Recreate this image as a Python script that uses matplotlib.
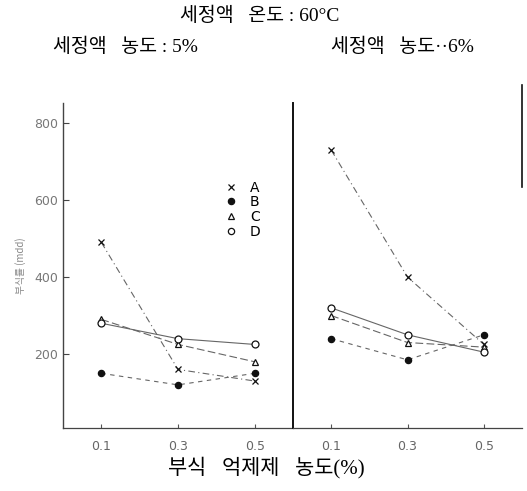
import matplotlib
matplotlib.use("Agg")
import matplotlib.pyplot as plt
from matplotlib.lines import Line2D

plt.rcParams['font.family'] = ['Noto Sans CJK KR', 'DejaVu Sans']

x = [0.1, 0.3, 0.5]
xticklabels = ["0.1", "0.3", "0.5"]
series = ["A", "B", "C", "D"]
left_vals = {
    "A": [490, 160, 130],
    "B": [150, 120, 150],
    "C": [290, 225, 180],
    "D": [280, 240, 225],
}
right_vals = {
    "A": [730, 400, 225],
    "B": [240, 185, 250],
    "C": [300, 230, 218],
    "D": [320, 250, 205],
}
yticks = [200, 400, 600, 800]

markers = {"A": "x", "B": "o", "C": "^", "D": "o"}
mfc = {"A": "#222222", "B": "#111111", "C": "white", "D": "white"}
ls = {"A": (0, (6, 3, 1, 3)), "B": (0, (4, 4)), "C": (0, (7, 3)), "D": "-"}
msize = {"A": 5, "B": 4.5, "C": 5, "D": 5}

fig = plt.figure(figsize=(5.27, 4.91), dpi=100)
L, R, B, T = 63/527, 522/527, 1-428/491, 1-103/491
mid = 293/527
ax1 = fig.add_axes([L, B, mid-L, T-B])
ax2 = fig.add_axes([mid, B, R-mid, T-B])

for ax, vals in ((ax1, left_vals), (ax2, right_vals)):
    for s in series:
        ax.plot(x, vals[s], linestyle=ls[s], color="#666666", linewidth=0.8,
                marker=markers[s], markersize=msize[s], markerfacecolor=mfc[s],
                markeredgecolor="#111111", markeredgewidth=0.9, label=s)
    ax.set_xlim(0, 0.6)
    ax.set_ylim(8, 852)
    ax.set_xticks(x)
    ax.set_xticklabels(xticklabels, color="#666666", fontsize=9, family="DejaVu Sans")
    ax.tick_params(axis="x", direction="in", length=3, color="#555555", pad=9)
    ax.spines['top'].set_visible(False)
    ax.spines['right'].set_visible(False)
    ax.spines['bottom'].set_color("#444444")
    ax.spines['bottom'].set_linewidth(0.9)

ax1.set_yticks(yticks)
ax1.set_yticklabels([str(v) for v in yticks], color="#777777", fontsize=9, family="DejaVu Sans")
ax1.tick_params(axis="y", direction="in", length=4, color="#444444")
ax1.spines['left'].set_color("#444444")
ax1.spines['left'].set_linewidth(1.0)
ax1.set_ylabel("부식률 (mdd)", fontsize=7, color="#888888", labelpad=6)

ax2.set_yticks([])
ax2.spines['left'].set_color("#111111")
ax2.spines['left'].set_linewidth(1.4)
# partial right border
ax2.plot([1, 1], [1 - (187-103)/325, 1 + 18/325], transform=ax2.transAxes,
         color="#111111", linewidth=1.2, clip_on=False)

handles = [Line2D([], [], linestyle="none", marker=markers[s], markersize=4.5,
                  markerfacecolor=mfc[s], markeredgecolor="#111111", markeredgewidth=0.9)
           for s in series]
ax1.legend(handles, series, loc="upper left", bbox_to_anchor=(0.65, 0.80), frameon=False,
           handlelength=0.8, handletextpad=1.0, labelspacing=0.05,
           prop={"family": "DejaVu Sans", "size": 10})

serif = ['Liberation Serif', 'Noto Sans CJK KR']
fig.text(260/527, 1-16/491, "세정액   온도 : 60°C", ha="center", va="center", fontsize=14, family=serif)
fig.text(125/527, 1-47/491, "세정액   농도 : 5%", ha="center", va="center", fontsize=14, family=serif)
fig.text(402/527, 1-47/491, "세정액   농도··6%", ha="center", va="center", fontsize=14, family=serif)
fig.text(266/527, 1-468/491, "부식   억제제   농도(%)", ha="center", va="center", fontsize=15, family=serif)

fig.savefig("out.png", dpi=100)
